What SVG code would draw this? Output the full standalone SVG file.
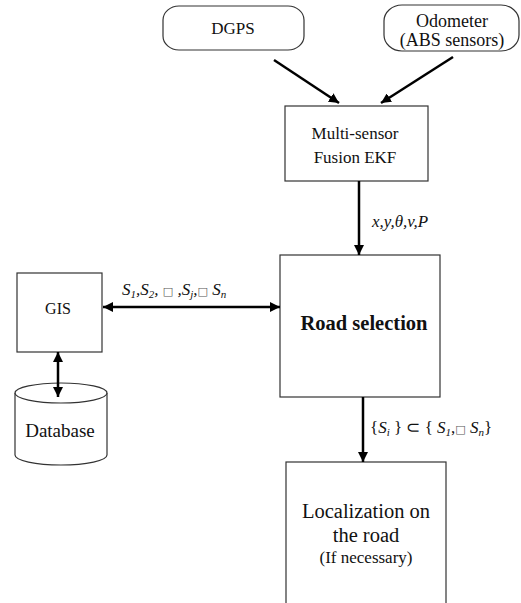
<svg xmlns="http://www.w3.org/2000/svg" width="521" height="603" viewBox="0 0 521 603">
<defs>
<marker id="ah" markerWidth="10" markerHeight="10" viewBox="0 0 10 10" refX="10" refY="5" orient="auto-start-reverse" markerUnits="userSpaceOnUse">
<path d="M0,0 L10,5 L0,10 Z" fill="#000"/>
</marker>
<style>
.box{fill:#fff;stroke:#333;stroke-width:1.2}
.t{font-family:"Liberation Serif","Times New Roman",serif;fill:#111;text-anchor:middle}
.lab{font-family:"Liberation Serif","Times New Roman",serif;fill:#111;font-style:italic;font-size:17px}
.up{font-style:normal}
.sub{font-size:11px}
.tofu{font-family:"DejaVu Sans",sans-serif;font-style:normal;font-size:11px;fill:#555}
.con{stroke:#000;stroke-width:2.5;fill:none}
</style>
</defs>
<rect width="521" height="603" fill="#fff"/>
<g id="dgps">
<rect class="box" x="163" y="6" width="141" height="44" rx="16" ry="14"/>
<text class="t" x="233" y="34" font-size="17">DGPS</text>
</g>
<g id="odometer">
<rect class="box" x="384" y="5" width="135" height="46" rx="18" ry="16"/>
<text class="t" x="452" y="27" font-size="18">Odometer</text>
<text class="t" x="452" y="46" font-size="18">(ABS sensors)</text>
</g>
<g id="fusion">
<rect class="box" x="285" y="106" width="143" height="75"/>
<text class="t" x="355" y="139" font-size="17">Multi-sensor</text>
<text class="t" x="355" y="163" font-size="17">Fusion EKF</text>
</g>
<g id="road-selection">
<rect class="box" x="280" y="255" width="160" height="142"/>
<text class="t" x="364" y="330" font-size="20.5" font-weight="bold">Road selection</text>
</g>
<g id="gis">
<rect class="box" x="17" y="273" width="85" height="79"/>
<text class="t" x="58" y="314" font-size="16">GIS</text>
</g>
<g id="database">
<path class="box" d="M15,393 L15,455 A46,10 0 0 0 107,455 L107,393"/>
<ellipse class="box" cx="61" cy="393" rx="46" ry="10"/>
<text class="t" x="60" y="437" font-size="19">Database</text>
</g>
<g id="localization">
<rect class="box" x="286" y="462" width="160" height="170"/>
<text class="t" x="366" y="518" font-size="20.5">Localization on</text>
<text class="t" x="366" y="542" font-size="20.5">the road</text>
<text class="t" x="366" y="563" font-size="17">(If necessary)</text>
</g>
<g id="connectors">
<line class="con" x1="274" y1="60" x2="339" y2="103" marker-end="url(#ah)"/>
<line class="con" x1="453" y1="57" x2="381" y2="103" marker-end="url(#ah)"/>
<line class="con" x1="359" y1="181" x2="359" y2="255" marker-end="url(#ah)"/>
<line class="con" x1="103" y1="307" x2="280" y2="307" marker-start="url(#ah)" marker-end="url(#ah)"/>
<line class="con" x1="58" y1="352" x2="58" y2="397" marker-start="url(#ah)" marker-end="url(#ah)"/>
<line class="con" x1="363" y1="397" x2="363" y2="462" marker-end="url(#ah)"/>
<text class="lab" x="372" y="227">x,y,θ,v,P</text>
<text class="lab" x="122" y="295">S<tspan class="sub" dy="3">1</tspan><tspan dy="-3">,S</tspan><tspan class="sub" dy="3">2</tspan><tspan dy="-3">,  </tspan><tspan class="tofu">□</tspan><tspan> ,S</tspan><tspan class="sub" dy="3">j</tspan><tspan dy="-3">,</tspan><tspan class="tofu">□</tspan><tspan> S</tspan><tspan class="sub" dy="3">n</tspan></text>
<text class="lab" x="370" y="433"><tspan class="up">{</tspan>S<tspan class="sub" dy="3">i</tspan><tspan class="up" dy="-3"> } ⊂ { </tspan>S<tspan class="sub" dy="3">1</tspan><tspan class="up" dy="-3">,</tspan><tspan class="tofu">□</tspan><tspan> S</tspan><tspan class="sub" dy="3">n</tspan><tspan class="up" dy="-3">}</tspan></text>
</g>
</svg>
